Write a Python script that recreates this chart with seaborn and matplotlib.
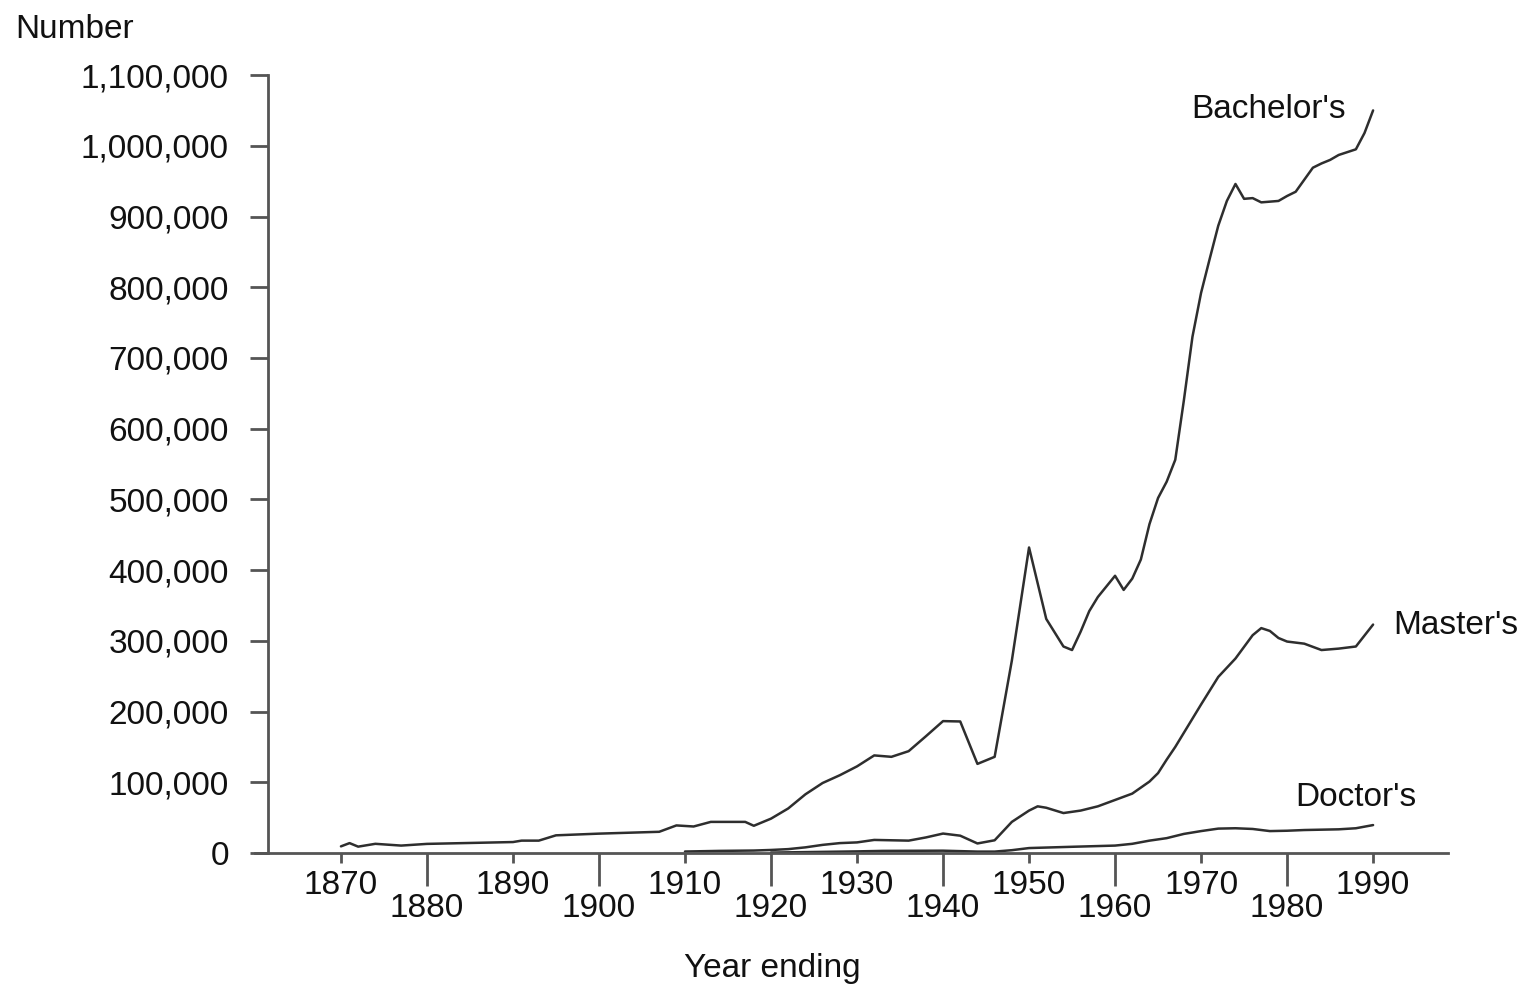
import matplotlib
matplotlib.use('Agg')
import matplotlib.pyplot as plt
from matplotlib import ticker
import pandas as pd
import seaborn as sns

# degrees conferred
bach_years = [1870, 1871, 1872, 1874, 1877, 1880, 1890, 1891, 1893, 1895, 1900, 1907, 1909, 1911,
              1913, 1917, 1918, 1920, 1922, 1924, 1926, 1928, 1930, 1932, 1934, 1936, 1938, 1940,
              1942, 1944, 1946, 1948, 1950, 1952, 1954, 1955, 1956, 1957, 1958, 1960, 1961, 1962,
              1963, 1964, 1965, 1966, 1967, 1968, 1969, 1970, 1971, 1972, 1973, 1974, 1975, 1976,
              1977, 1978, 1979, 1980, 1981, 1982, 1983, 1984, 1985, 1986, 1987, 1988, 1989, 1990]
bach_vals = [9400, 14000, 9000, 13000, 10500, 12900, 15500, 17500, 17500, 25000, 27400, 30000, 39000, 37500,
             44000, 44000, 38500, 48600, 63000, 83000, 99000, 110000, 122500, 138000, 136000, 144000, 165000, 186500,
             186000, 126000, 136000, 272000, 432000, 331000, 292000, 287000, 313000, 342000, 362000, 392000, 372000, 388000,
             415000, 465000, 502000, 525000, 556000, 640000, 730000, 792000, 840000, 887000, 922000, 946000, 925000, 926000,
             920000, 921000, 922000, 929000, 935000, 952000, 969000, 975000, 980000, 987000, 991000, 995000, 1018000, 1050000]

mast_years = [1910, 1914, 1918, 1920, 1922, 1924, 1926, 1928, 1930, 1932, 1934, 1936, 1938, 1940, 1942, 1944,
              1946, 1948, 1950, 1951, 1952, 1954, 1956, 1958, 1960, 1962, 1964, 1965, 1966, 1967, 1968, 1969,
              1970, 1972, 1974, 1976, 1977, 1978, 1979, 1980, 1982, 1984, 1986, 1988, 1990]
mast_vals = [2100, 3000, 3500, 4300, 5500, 8000, 11500, 14000, 15000, 18500, 18000, 17500, 22000, 27500, 24500, 13500,
             18000, 44000, 60000, 66000, 64000, 56500, 60000, 66000, 75000, 84000, 101000, 113000, 132000, 150000, 170000, 190000,
             210000, 249000, 275000, 308000, 318000, 314000, 304000, 299000, 296000, 287000, 289000, 292000, 323000]

doc_years = [1920, 1930, 1933, 1940, 1944, 1946, 1948, 1950, 1955, 1960, 1962, 1964, 1966, 1968, 1970, 1972,
             1974, 1976, 1978, 1980, 1982, 1984, 1986, 1988, 1990]
doc_vals = [600, 2300, 3000, 3300, 2000, 2000, 4000, 7000, 8800, 10500, 13000, 17500, 21000, 27000, 31000, 34500,
            35000, 34000, 31000, 31500, 32500, 33000, 33500, 35000, 39500]

series = [
    {'name': "Bachelor's", 'years': bach_years, 'vals': bach_vals},
    {'name': "Master's", 'years': mast_years, 'vals': mast_vals},
    {'name': "Doctor's", 'years': doc_years, 'vals': doc_vals},
]

odd_decades = [1870, 1890, 1910, 1930, 1950, 1970, 1990]
even_decades = [1880, 1900, 1920, 1940, 1960, 1980]
y_ticks = list(range(0, 1100001, 100000))

sns.set_theme(style='white')
plt.rcParams['font.family'] = ['Liberation Sans', 'DejaVu Sans']

axis_col = '#555555'
line_col = '#2e2e2e'
text_col = '#111111'
fs = 24

fig = plt.figure(figsize=(15.23, 9.85), dpi=100)
ax = fig.add_axes([0.1674, 0.1340, 0.7833, 0.7898])

for s in series:
    df = pd.DataFrame({'year': s['years'], 'value': s['vals']})
    sns.lineplot(data=df, x='year', y='value', ax=ax, color=line_col, linewidth=1.8)

ax.set_xlim(1860, 1998.7)
ax.set_ylim(0, 1100000)

for side in ['top', 'right']:
    ax.spines[side].set_visible(False)
ax.spines['left'].set_position(('data', 1861.5))
for side in ['left', 'bottom']:
    ax.spines[side].set_color(axis_col)
    ax.spines[side].set_linewidth(2)

ax.set_xticks(odd_decades)
ax.set_xticks(even_decades, minor=True)
ax.xaxis.set_minor_formatter(ticker.FormatStrFormatter('%d'))
ax.tick_params(axis='x', which='major', direction='out', length=7.5, width=2, color=axis_col,
               labelsize=fs, labelcolor=text_col, pad=5, bottom=True)
ax.tick_params(axis='x', which='minor', direction='out', length=24, width=2, color=axis_col,
               labelsize=fs, labelcolor=text_col, pad=5, bottom=True)

ax.set_yticks(y_ticks)
ax.yaxis.set_major_formatter(ticker.FuncFormatter(lambda v, p: f'{int(v):,}'))
ax.tick_params(axis='y', direction='out', length=13, width=2, color=axis_col, labelsize=fs,
               labelcolor=text_col, pad=15, left=True)

ax.set_xlabel('')
ax.set_ylabel('')

ax.text(1977.8, 1052000, "Bachelor's", fontsize=fs, ha='center', va='center', color=text_col)
ax.text(1992.3, 321000, "Master's", fontsize=fs, ha='left', va='center', color=text_col)
ax.text(1981.0, 79000, "Doctor's", fontsize=fs, ha='left', va='center', color=text_col)

fig.text(15 / 1523, 1 - 30 / 985, 'Number', fontsize=fs, ha='left', va='center', color=text_col)
fig.text(772 / 1523, 1 - 968 / 985, 'Year ending', fontsize=fs, ha='center', va='center', color=text_col)

fig.savefig('out.png', dpi=100)
